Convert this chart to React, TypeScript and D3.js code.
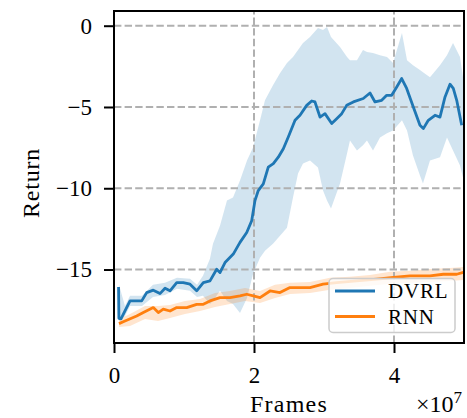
import React, { useEffect, useRef } from 'react';
import * as d3 from 'd3';

// x values in units of 1e7 frames
const xTicks = [0, 2, 4];
const yTicks = [0, -5, -10, -15];
const seriesNames = ['DVRL', 'RNN'];
const seriesColors = ['#1f77b4', '#ff7f0e'];

// DVRL mean return
const dvrlX = [0.065, 0.07, 0.1, 0.157, 0.229, 0.396, 0.467, 0.561, 0.657, 0.729, 0.8, 0.896, 0.99, 1.086, 1.181, 1.276,
  1.371, 1.467, 1.514, 1.586, 1.704, 1.8, 1.896, 1.967, 2.014, 2.061, 2.133, 2.204, 2.276, 2.347, 2.419, 2.49, 2.586,
  2.657, 2.753, 2.824, 2.871, 2.943, 3.014, 3.11, 3.181, 3.253, 3.324, 3.419, 3.561, 3.657, 3.729, 3.824, 3.896, 3.967,
  4.039, 4.11, 4.181, 4.276, 4.371, 4.419, 4.49, 4.586, 4.657, 4.729, 4.8, 4.847, 4.896, 4.967];
const dvrlMean = [-16.07, -18.0, -18.04, -17.55, -16.93, -16.93, -16.42, -16.27, -16.48, -16.15, -16.31, -15.8, -15.8, -15.9,
  -16.31, -15.8, -15.7, -14.98, -15.19, -14.57, -14.05, -13.33, -12.72, -12.0, -10.76, -10.14, -9.73, -8.7, -8.49, -8.09,
  -7.57, -6.85, -5.82, -5.51, -4.9, -4.63, -4.69, -5.62, -5.41, -6.02, -5.72, -5.41, -4.9, -4.69, -4.48, -4.14, -4.69,
  -4.59, -4.28, -4.28, -3.77, -3.25, -3.86, -5.0, -6.13, -6.33, -5.82, -5.51, -5.62, -4.38, -3.6, -3.86, -4.59, -6.13];

// DVRL spread
const dvrlBandX = [0.071, 0.157, 0.229, 0.4, 0.557, 0.729, 0.9, 1.086, 1.186, 1.271, 1.371, 1.414, 1.514, 1.614, 1.7, 1.8,
  1.9, 1.986, 2.086, 2.157, 2.271, 2.371, 2.471, 2.557, 2.629, 2.7, 2.8, 2.914, 2.986, 3.043, 3.1, 3.229, 3.329, 3.371,
  3.471, 3.557, 3.614, 3.7, 3.8, 3.9, 3.986, 4.114, 4.186, 4.271, 4.371, 4.414, 4.514, 4.657, 4.757, 4.843, 4.943, 4.986];
const dvrlLo = [-18.17, -17.86, -17.24, -17.24, -16.69, -16.56, -16.19, -16.31, -16.69, -16.62, -17.12, -16.93, -16.31,
  -16.93, -17.12, -17.67, -16.75, -15.27, -14.28, -13.85, -13.41, -12.92, -12.43, -10.57, -9.09, -8.47, -8.29, -8.72,
  -10.14, -10.76, -11.25, -9.71, -7.86, -7.06, -7.67, -7.36, -7.06, -7.67, -6.87, -6.62, -6.44, -5.82, -6.44, -7.98,
  -9.22, -9.71, -8.29, -8.1, -6.87, -7.67, -8.6, -9.34];
const dvrlHi = [-15.94, -17.24, -16.62, -16.62, -15.94, -15.82, -15.51, -15.57, -15.94, -15.39, -14.34, -13.41, -12.3,
  -10.76, -10.57, -9.52, -8.29, -7.49, -5.82, -4.59, -3.66, -2.92, -2.3, -1.93, -1.5, -1.07, -0.7, -0.14, -0.27, -0.08,
  -0.7, -1.31, -1.93, -2.12, -2.12, -1.5, -1.62, -1.68, -1.81, -1.93, -2.3, -0.45, -2.12, -2.43, -2.73, -2.86, -3.17,
  -2.43, -1.81, -1.07, -1.93, -3.17];

// RNN mean return
const rnnX = [0.071, 0.157, 0.324, 0.419, 0.561, 0.633, 0.704, 0.8, 0.896, 1.039, 1.181, 1.276, 1.371, 1.514, 1.657, 1.8,
  1.896, 1.99, 2.086, 2.229, 2.371, 2.514, 2.8, 2.986, 3.181, 3.467, 3.753, 3.99, 4.229, 4.514, 4.704, 4.896, 4.99];
const rnnMean = [-18.33, -18.17, -17.86, -17.65, -17.34, -17.65, -17.44, -17.55, -17.34, -17.34, -17.14, -17.14, -16.93,
  -16.73, -16.73, -16.62, -16.52, -16.62, -16.73, -16.32, -16.42, -16.11, -16.11, -15.9, -15.8, -15.7, -15.59, -15.49,
  -15.39, -15.39, -15.29, -15.29, -15.18];

// RNN spread
const rnnBandX = [0.071, 0.229, 0.443, 0.629, 0.8, 1.014, 1.229, 1.443, 1.657, 1.871, 2.086, 2.3, 2.514, 2.8, 3.086, 3.371,
  3.657, 3.943, 4.229, 4.514, 4.8, 4.986];
const rnnLo = [-18.54, -18.48, -18.04, -18.17, -17.98, -17.73, -17.55, -17.3, -17.12, -16.93, -17.06, -16.75, -16.5, -16.44,
  -16.25, -16.13, -16.0, -15.88, -15.82, -15.76, -15.7, -15.64];
const rnnHi = [-18.04, -17.73, -17.24, -17.24, -17.18, -16.93, -16.81, -16.44, -16.32, -16.13, -16.32, -15.94, -15.82, -15.76,
  -15.51, -15.45, -15.33, -15.14, -15.08, -14.96, -14.9, -14.84];

export default function App() {
  const ref = useRef<SVGSVGElement | null>(null);

  useEffect(() => {
    const width = 467;
    const height = 418;
    const margin = { top: 11, right: 3, bottom: 75, left: 114 };
    const font = '"Liberation Serif", "Times New Roman", serif';

    const svg = d3.select(ref.current);
    svg.selectAll('*').remove();

    const x = d3.scaleLinear().domain([0, 5]).range([margin.left, width - margin.right]);
    const y = d3.scaleLinear().domain([-19.52, 0.905]).range([height - margin.bottom, margin.top]);

    const band = (xs: number[], lo: number[], hi: number[]) =>
      d3.area<number>().x(i => x(xs[i])).y0(i => y(lo[i])).y1(i => y(hi[i]))(d3.range(xs.length));
    const line = (xs: number[], ys: number[]) =>
      d3.line<number>().x(i => x(xs[i])).y(i => y(ys[i]))(d3.range(xs.length));

    const plot = svg.append('g');

    // shaded spread
    plot.append('path').attr('d', band(dvrlBandX, dvrlLo, dvrlHi)).attr('fill', seriesColors[0]).attr('fill-opacity', 0.2);
    plot.append('path').attr('d', band(rnnBandX, rnnLo, rnnHi)).attr('fill', seriesColors[1]).attr('fill-opacity', 0.2);

    // grid
    const grid = plot.append('g').attr('stroke', '#b0b0b0').attr('stroke-width', 2).attr('stroke-dasharray', '7.4,3.2');
    xTicks.filter(t => t > 0).forEach(t => {
      grid.append('line').attr('x1', x(t)).attr('x2', x(t)).attr('y1', y.range()[0]).attr('y2', y.range()[1]);
    });
    yTicks.forEach(t => {
      grid.append('line').attr('x1', x.range()[0]).attr('x2', x.range()[1]).attr('y1', y(t)).attr('y2', y(t));
    });

    // mean lines
    plot.append('path').attr('d', line(dvrlX, dvrlMean)).attr('fill', 'none')
      .attr('stroke', seriesColors[0]).attr('stroke-width', 2.8).attr('stroke-linejoin', 'round');
    plot.append('path').attr('d', line(rnnX, rnnMean)).attr('fill', 'none')
      .attr('stroke', seriesColors[1]).attr('stroke-width', 2.8).attr('stroke-linejoin', 'round');

    // frame
    svg.append('rect')
      .attr('x', x.range()[0]).attr('y', y.range()[1])
      .attr('width', x.range()[1] - x.range()[0]).attr('height', y.range()[0] - y.range()[1])
      .attr('fill', 'none').attr('stroke', '#000').attr('stroke-width', 2);

    // axes
    const xAxis = d3.axisBottom(x).tickValues(xTicks).tickSize(10).tickPadding(14).tickFormat(d3.format('d'));
    const yAxis = d3.axisLeft(y).tickValues(yTicks).tickSize(10).tickPadding(12)
      .tickFormat(d => String(d).replace('-', '\u2212'));

    const gx = svg.append('g').attr('transform', `translate(0,${y.range()[0]})`).call(xAxis);
    const gy = svg.append('g').attr('transform', `translate(${x.range()[0]},0)`).call(yAxis);
    [gx, gy].forEach(g => {
      g.select('.domain').remove();
      g.selectAll('line').attr('stroke', '#000').attr('stroke-width', 2);
      g.selectAll('text').attr('font-family', font).attr('font-size', 23).attr('fill', '#000');
    });

    // labels
    svg.append('text').attr('x', x(2.5)).attr('y', 412).attr('text-anchor', 'middle')
      .attr('font-family', font).attr('font-size', 24).attr('letter-spacing', 1.2).text('Frames');
    const off = svg.append('text').attr('x', 462).attr('y', 412).attr('text-anchor', 'end')
      .attr('font-family', font).attr('font-size', 24);
    off.append('tspan').text('\u00d710');
    off.append('tspan').attr('dy', -9).attr('font-size', 17).text('7');
    svg.append('text').attr('transform', 'translate(39,183) rotate(-90)').attr('text-anchor', 'middle')
      .attr('font-family', font).attr('font-size', 24).attr('letter-spacing', 0.8).text('Return');

    // legend
    const lg = svg.append('g');
    lg.append('rect').attr('x', 329).attr('y', 278.5).attr('width', 126).attr('height', 54).attr('rx', 4)
      .attr('fill', '#fff').attr('fill-opacity', 0.8).attr('stroke', '#cccccc').attr('stroke-width', 1.5);
    seriesNames.forEach((name, i) => {
      const ly = 291 + i * 25.5;
      lg.append('line').attr('x1', 335).attr('x2', 375).attr('y1', ly).attr('y2', ly)
        .attr('stroke', seriesColors[i]).attr('stroke-width', 2.8);
      lg.append('text').attr('x', 388).attr('y', ly + 7).attr('font-family', font).attr('font-size', 21)
        .attr('letter-spacing', 0.8).attr('fill', '#000').text(name);
    });
  }, []);

  return (
    <svg ref={ref} width={467} height={418}
      style={{ position: 'absolute', left: 0, top: 0, background: '#fff' }} />
  );
}
